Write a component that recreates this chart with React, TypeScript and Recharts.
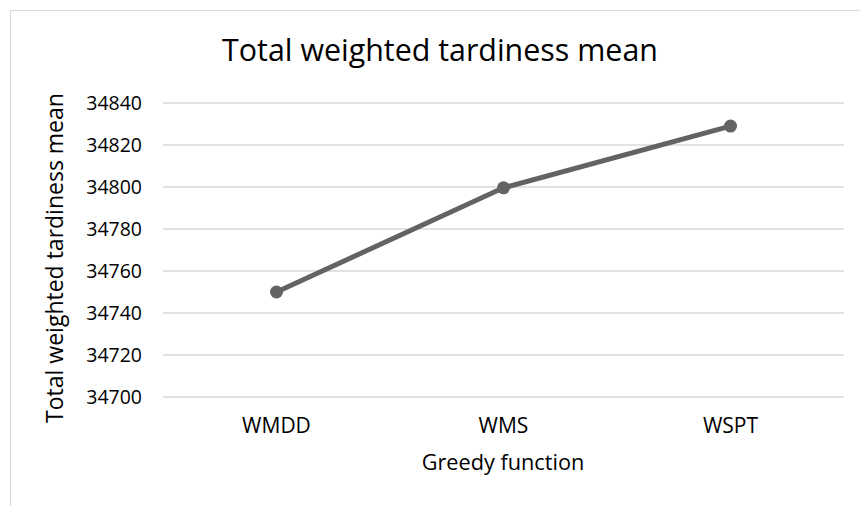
import React from "react";
import { LineChart, Line, XAxis, YAxis, CartesianGrid, Label } from "recharts";

const categories = ["WMDD", "WMS", "WSPT"];
const meanTardiness = [34750, 34799.6, 34829];
const yTicks = [34700, 34720, 34740, 34760, 34780, 34800, 34820, 34840];

const data = categories.map((name, i) => ({ name, value: meanTardiness[i] }));

const FONT = "'Open Sans', 'Noto Sans', sans-serif";
const TEXT = "#000000";
const LINE = "#636363";
const GRID = "#d9d9d9";

export default function App() {
  return (
    <div
      style={{
        position: "fixed",
        left: 0,
        top: 0,
        width: 860,
        height: 506,
        overflow: "hidden",
        background: "#ffffff",
        fontFamily: FONT,
      }}
    >
      <div
        style={{
          position: "absolute",
          left: 10,
          top: 10,
          width: 900,
          height: 560,
          border: "1px solid " + GRID,
        }}
      />
      <div
        style={{
          position: "absolute",
          left: 0,
          width: 880,
          top: 29,
          textAlign: "center",
          fontSize: 30.4,
          lineHeight: "42px",
          color: TEXT,
          whiteSpace: "nowrap",
        }}
      >
        Total weighted tardiness mean
      </div>
      <div style={{ position: "absolute", left: 0, top: 0 }}>
        <LineChart
          width={860}
          height={506}
          data={data}
          margin={{ top: 103, right: 16, bottom: 79, left: 0 }}
        >
          <CartesianGrid vertical={false} stroke={GRID} strokeWidth={1.3} />
          <XAxis
            dataKey="name"
            height={30}
            axisLine={false}
            tickLine={false}
            tickSize={0}
            tickMargin={21}
            padding={{ left: 113.5, right: 113.5 }}
            tick={{ fill: TEXT, fontSize: 21, fontFamily: FONT }}
          >
            <Label
              content={() => (
                <text
                  x={503}
                  y={470}
                  textAnchor="middle"
                  fill={TEXT}
                  fontSize={21.7}
                  fontFamily={FONT}
                >
                  Greedy function
                </text>
              )}
            />
          </XAxis>
          <YAxis
            width={163}
            domain={[34700, 34840]}
            ticks={yTicks}
            interval={0}
            axisLine={false}
            tickLine={false}
            tickSize={0}
            tickMargin={21}
            tick={{ fill: TEXT, fontSize: 19.5, fontFamily: FONT }}
          >
            <Label
              content={() => (
                <text
                  x={63}
                  y={258}
                  transform="rotate(-90 63 258)"
                  textAnchor="middle"
                  fill={TEXT}
                  fontSize={23}
                  fontFamily={FONT}
                >
                  Total weighted tardiness mean
                </text>
              )}
            />
          </YAxis>
          <Line
            type="linear"
            dataKey="value"
            stroke={LINE}
            strokeWidth={5}
            dot={{ r: 6.5, fill: LINE, stroke: "none" }}
            activeDot={false}
            isAnimationActive={false}
          />
        </LineChart>
      </div>
    </div>
  );
}
